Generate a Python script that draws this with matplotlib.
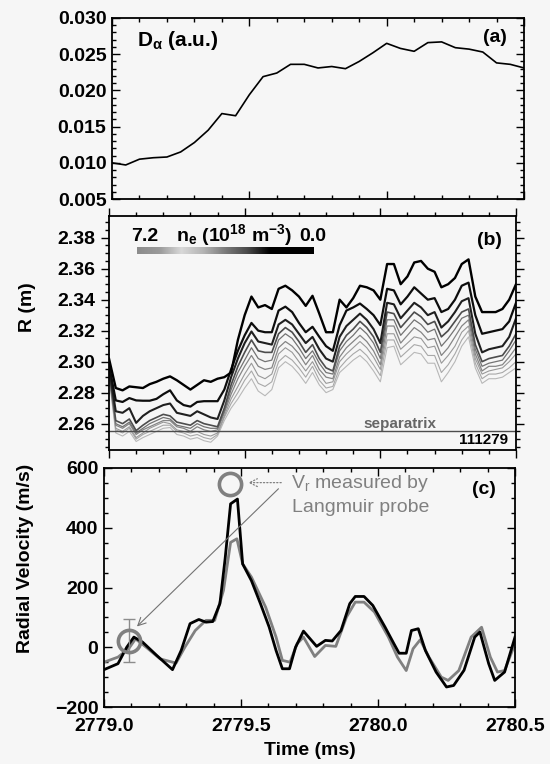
import numpy as np
import matplotlib
matplotlib.use("Agg")
import matplotlib.pyplot as plt
from matplotlib.colors import LinearSegmentedColormap
from matplotlib.ticker import AutoMinorLocator, FormatStrFormatter, MultipleLocator

plt.rcParams["font.family"] = ["Liberation Sans", "DejaVu Sans"]
plt.rcParams["font.weight"] = "bold"
plt.rcParams["axes.labelweight"] = "bold"
plt.rcParams["font.size"] = 14
plt.rcParams["mathtext.default"] = "regular"

# ---- (a) D-alpha, sampled every 0.05 ms
da_time = np.linspace(2779.0, 2780.5, 31)
d_alpha = [0.0100, 0.0097, 0.0105, 0.0107, 0.0108, 0.0115, 0.0128, 0.0145, 0.0168, 0.0165,
           0.0194, 0.0219, 0.0224, 0.0236, 0.0236, 0.0231, 0.0233, 0.0230, 0.0240, 0.0252,
           0.0265, 0.0258, 0.0254, 0.0266, 0.0267, 0.0259, 0.0257, 0.0253, 0.0238, 0.0236,
           0.0231]

# ---- (b) density contour radii, sampled every 0.025 ms (outer/low ne first)
r_time = np.linspace(2779.0, 2780.5, 61)
r_l1 = [2.302, 2.283, 2.2815, 2.284, 2.2835, 2.283, 2.2855, 2.287, 2.289, 2.2905,
        2.288, 2.285, 2.282, 2.285, 2.288, 2.287, 2.289, 2.290, 2.293, 2.314,
        2.330, 2.342, 2.335, 2.3365, 2.334, 2.347, 2.349, 2.346, 2.342, 2.336,
        2.3425, 2.331, 2.319, 2.319, 2.340, 2.335, 2.341, 2.349, 2.348, 2.346,
        2.340, 2.363, 2.363, 2.350, 2.355, 2.364, 2.365, 2.360, 2.358, 2.348,
        2.350, 2.354, 2.363, 2.366, 2.342, 2.332, 2.332, 2.332, 2.334, 2.340,
        2.350]
r_l2 = [2.298, 2.275, 2.274, 2.2765, 2.275, 2.2748, 2.2748, 2.276, 2.279, 2.2815,
        2.275, 2.272, 2.271, 2.274, 2.2745, 2.2745, 2.2745, 2.282, 2.295, 2.307,
        2.317, 2.325, 2.320, 2.319, 2.319, 2.333, 2.3355, 2.332, 2.325, 2.319,
        2.3225, 2.316, 2.310, 2.307, 2.3235, 2.333, 2.335, 2.3375, 2.334, 2.330,
        2.3236, 2.347, 2.346, 2.337, 2.342, 2.348, 2.344, 2.340, 2.341, 2.332,
        2.334, 2.340, 2.349, 2.351, 2.330, 2.318, 2.319, 2.320, 2.321, 2.326,
        2.338]
r_l3 = [2.296, 2.268, 2.267, 2.270, 2.2605, 2.265, 2.268, 2.270, 2.272, 2.273,
        2.267, 2.266, 2.265, 2.268, 2.266, 2.264, 2.263, 2.275, 2.290, 2.302,
        2.312, 2.3195, 2.313, 2.312, 2.311, 2.324, 2.327, 2.324, 2.318, 2.312,
        2.316, 2.308, 2.302, 2.300, 2.316, 2.323, 2.327, 2.331, 2.327, 2.321,
        2.312, 2.338, 2.337, 2.328, 2.333, 2.338, 2.335, 2.330, 2.332, 2.322,
        2.326, 2.332, 2.339, 2.341, 2.318, 2.306, 2.308, 2.309, 2.310, 2.316,
        2.328]
r_l4 = [2.294, 2.262, 2.260, 2.263, 2.2555, 2.259, 2.262, 2.264, 2.266, 2.265,
        2.261, 2.260, 2.259, 2.262, 2.260, 2.259, 2.258, 2.270, 2.285, 2.297,
        2.306, 2.314, 2.307, 2.306, 2.306, 2.318, 2.322, 2.319, 2.313, 2.306,
        2.311, 2.302, 2.296, 2.294, 2.310, 2.317, 2.321, 2.326, 2.322, 2.316,
        2.306, 2.332, 2.331, 2.322, 2.327, 2.332, 2.329, 2.324, 2.326, 2.316,
        2.320, 2.326, 2.332, 2.334, 2.311, 2.300, 2.302, 2.303, 2.304, 2.310,
        2.318]
r_l5 = [2.293, 2.260, 2.258, 2.261, 2.254, 2.257, 2.260, 2.262, 2.264, 2.263,
        2.259, 2.258, 2.257, 2.260, 2.258, 2.257, 2.257, 2.268, 2.282, 2.293,
        2.301, 2.309, 2.302, 2.300, 2.301, 2.314, 2.318, 2.315, 2.309, 2.302,
        2.307, 2.299, 2.293, 2.292, 2.307, 2.313, 2.317, 2.322, 2.318, 2.312,
        2.302, 2.327, 2.327, 2.317, 2.322, 2.327, 2.324, 2.319, 2.321, 2.310,
        2.315, 2.321, 2.328, 2.330, 2.308, 2.297, 2.299, 2.300, 2.301, 2.307,
        2.314]
r_l6 = [2.292, 2.259, 2.257, 2.260, 2.253, 2.256, 2.258, 2.260, 2.262, 2.262,
        2.258, 2.257, 2.255, 2.258, 2.256, 2.255, 2.256, 2.267, 2.279, 2.289,
        2.297, 2.304, 2.297, 2.295, 2.296, 2.309, 2.313, 2.310, 2.305, 2.298,
        2.304, 2.295, 2.290, 2.289, 2.303, 2.309, 2.313, 2.317, 2.313, 2.307,
        2.298, 2.323, 2.323, 2.312, 2.317, 2.322, 2.319, 2.314, 2.315, 2.304,
        2.309, 2.316, 2.323, 2.327, 2.305, 2.294, 2.297, 2.297, 2.298, 2.303,
        2.309]
r_l7 = [2.292, 2.257, 2.255, 2.258, 2.251, 2.254, 2.257, 2.259, 2.261, 2.260,
        2.256, 2.255, 2.254, 2.255, 2.253, 2.252, 2.254, 2.265, 2.276, 2.284,
        2.292, 2.299, 2.291, 2.289, 2.292, 2.305, 2.309, 2.306, 2.300, 2.294,
        2.300, 2.292, 2.286, 2.287, 2.300, 2.305, 2.309, 2.313, 2.309, 2.303,
        2.295, 2.318, 2.318, 2.308, 2.312, 2.316, 2.315, 2.309, 2.310, 2.299,
        2.304, 2.310, 2.319, 2.323, 2.302, 2.292, 2.294, 2.295, 2.296, 2.300,
        2.305]
r_l8 = [2.291, 2.256, 2.254, 2.257, 2.250, 2.253, 2.255, 2.257, 2.259, 2.259,
        2.255, 2.254, 2.252, 2.253, 2.251, 2.250, 2.253, 2.264, 2.273, 2.280,
        2.288, 2.294, 2.286, 2.284, 2.287, 2.300, 2.304, 2.301, 2.296, 2.290,
        2.297, 2.288, 2.283, 2.284, 2.296, 2.301, 2.305, 2.308, 2.304, 2.298,
        2.291, 2.314, 2.314, 2.303, 2.307, 2.311, 2.310, 2.304, 2.304, 2.293,
        2.298, 2.305, 2.314, 2.320, 2.299, 2.289, 2.292, 2.292, 2.293, 2.296,
        2.300]
r_l9 = [2.290, 2.254, 2.252, 2.255, 2.2485, 2.251, 2.253, 2.255, 2.257, 2.2575,
        2.253, 2.252, 2.250, 2.251, 2.249, 2.248, 2.252, 2.262, 2.270, 2.276,
        2.283, 2.289, 2.281, 2.278, 2.282, 2.296, 2.300, 2.297, 2.292, 2.286,
        2.293, 2.285, 2.280, 2.282, 2.293, 2.297, 2.301, 2.304, 2.300, 2.294,
        2.287, 2.309, 2.310, 2.298, 2.302, 2.306, 2.305, 2.299, 2.299, 2.287,
        2.293, 2.300, 2.310, 2.316, 2.296, 2.286, 2.289, 2.289, 2.290, 2.293,
        2.296]
r_lines = [r_l1, r_l2, r_l3, r_l4, r_l5, r_l6, r_l7, r_l8, r_l9]
separatrix_r = 2.255

# ---- (c) radial velocity
vr_black_t = [2779.0, 2779.051, 2779.083, 2779.109, 2779.141, 2779.192, 2779.25, 2779.282,
              2779.314, 2779.346, 2779.372, 2779.397, 2779.423, 2779.442, 2779.462, 2779.487,
              2779.506, 2779.538, 2779.571, 2779.603, 2779.628, 2779.651, 2779.677, 2779.699,
              2779.728, 2779.776, 2779.808, 2779.833, 2779.865, 2779.897, 2779.917, 2779.949,
              2779.981, 2780.026, 2780.058, 2780.077, 2780.103, 2780.122, 2780.147, 2780.173,
              2780.212, 2780.25, 2780.276, 2780.314, 2780.353, 2780.372, 2780.404, 2780.426,
              2780.462, 2780.5]
vr_black = [-75, -55, 0, 34, 17, -27, -75, -10, 79, 93, 84, 86, 146, 296, 480, 496, 279, 223,
            146, 67, -11, -72, -72, 0, 54, 3, 23, 21, 56, 146, 170, 170, 140, 67, 12, -20, -20,
            56, 62, -11, -83, -133, -128, -77, 34, 51, -55, -111, -83, 34]
vr_gray_t = [2779.0, 2779.051, 2779.09, 2779.115, 2779.154, 2779.205, 2779.263, 2779.295,
             2779.333, 2779.372, 2779.404, 2779.436, 2779.462, 2779.485, 2779.506, 2779.538,
             2779.59, 2779.628, 2779.651, 2779.679, 2779.705, 2779.728, 2779.769, 2779.808,
             2779.846, 2779.885, 2779.917, 2779.949, 2779.987, 2780.038, 2780.071, 2780.103,
             2780.128, 2780.154, 2780.186, 2780.231, 2780.256, 2780.295, 2780.34, 2780.378,
             2780.41, 2780.436, 2780.462, 2780.5]
vr_gray = [-50, -33, -5, 28, 0, -39, -53, 0, 56, 90, 90, 190, 351, 363, 279, 235, 134, 34, -44,
           -50, 12, 34, -31, 6, 3, 101, 151, 151, 118, 34, -33, -78, -5, 25, -33, -100, -111,
           -78, 34, 67, -33, -83, -78, 12]
probe_t = [2779.09, 2779.46]
probe_v = [22, 545]
probe_err0 = 73  # error bar only on the early probe point

bg = "#f6f6f6"
W, H = 550, 764


def px_axes(l, t, r, b):
    return fig.add_axes([l / W, 1 - b / H, (r - l) / W, (b - t) / H])


def style(ax, direction):
    ax.tick_params(which="both", direction=direction, top=True, right=True,
                   width=1, labelsize=14)
    ax.tick_params(which="major", length=6, pad=4)
    ax.tick_params(which="minor", length=3)
    for s in ax.spines.values():
        s.set_linewidth(1.3)
    ax.set_facecolor(bg)
    ax.set_xlim(2779.0, 2780.5)
    ax.xaxis.set_major_locator(MultipleLocator(0.5))
    ax.xaxis.set_minor_locator(AutoMinorLocator(5))


fig = plt.figure(figsize=(5.5, 7.64), dpi=100, facecolor=bg)

# (a)
ax_a = px_axes(112, 18, 524, 199)
style(ax_a, "in")
ax_a.plot(da_time, d_alpha, color="black", lw=1.2)
ax_a.set_ylim(0.005, 0.030)
ax_a.yaxis.set_major_locator(MultipleLocator(0.005))
ax_a.yaxis.set_minor_locator(AutoMinorLocator(5))
ax_a.yaxis.set_major_formatter(FormatStrFormatter("%.3f"))
ax_a.tick_params(labelbottom=False)
ax_a.text(0.061, 0.873, r"D$_{\alpha}$ (a.u.)", transform=ax_a.transAxes,
          va="center", ha="left", fontsize=15)
ax_a.text(0.93, 0.89, "(a)", transform=ax_a.transAxes, va="center", ha="center")

# (b)
ax_b = px_axes(109, 216, 516, 450)
style(ax_b, "out")
line_colors = ["black", "0.05", "0.12", "0.3", "0.45", "0.52", "0.6", "0.66", "0.72"]
line_widths = [1.7, 1.6, 1.5, 1.2, 0.9, 0.9, 0.8, 0.8, 0.8]
for vals, c, lw in zip(r_lines[::-1], line_colors[::-1], line_widths[::-1]):
    ax_b.plot(r_time, vals, color=c, lw=lw)
ax_b.axhline(separatrix_r, color="0.3", lw=1)
ax_b.set_ylim(2.243, 2.394)
ax_b.yaxis.set_major_locator(MultipleLocator(0.02))
ax_b.yaxis.set_minor_locator(AutoMinorLocator(4))
ax_b.yaxis.set_major_formatter(FormatStrFormatter("%.2f"))
ax_b.tick_params(labelbottom=False)
ax_b.set_ylabel("R (m)", fontsize=14)
ax_b.yaxis.set_label_coords(-0.18, 0.61)
ax_b.text(0.054, 0.893, "7.2", transform=ax_b.transAxes, va="baseline")
ax_b.text(0.165, 0.893, r"n$_e$ (10$^{18}$ m$^{-3}$)", transform=ax_b.transAxes,
          va="baseline")
ax_b.text(0.467, 0.893, "0.0", transform=ax_b.transAxes, va="baseline")
ax_b.text(0.934, 0.897, "(b)", transform=ax_b.transAxes, va="center", ha="center")
ax_b.text(0.715, 0.111, "separatrix", transform=ax_b.transAxes, va="center",
          ha="center", fontsize=11, color="0.4")
ax_b.text(0.98, 0.043, "111279", transform=ax_b.transAxes, va="center", ha="right",
          fontsize=11)
cb = ax_b.inset_axes([0.068, 0.838, 0.433, 0.03])
bar_cmap = LinearSegmentedColormap.from_list(
    "ne", ["#8c8c8c", "#9a9a9a", "#d8d8d8", "#b4b4b4", "#7a7a7a", "#4a4a4a",
           "#000000", "#000000", "#000000"])
cb.imshow(np.linspace(0, 1, 256)[None, :], aspect="auto", cmap=bar_cmap)
cb.set_axis_off()

# (c)
ax_c = px_axes(104, 468, 515, 707)
style(ax_c, "in")
ax_c.tick_params(axis="x", which="major", pad=8)
ax_c.plot(vr_gray_t, vr_gray, color="0.5", lw=2)
ax_c.plot(vr_black_t, vr_black, color="black", lw=2)
ax_c.set_ylim(-200, 600)
ax_c.yaxis.set_major_locator(MultipleLocator(200))
ax_c.yaxis.set_minor_locator(AutoMinorLocator(4))
ax_c.xaxis.set_major_formatter(FormatStrFormatter("%.1f"))
ax_c.errorbar(probe_t[:1], probe_v[:1], yerr=probe_err0, fmt="none", ecolor="0.55",
              elinewidth=1, capsize=4)
ax_c.plot(probe_t, probe_v, "o", ms=16, mfc="none", mec="0.5", mew=2.6)
ax_c.annotate("", xy=(2779.516, 551), xytext=(2779.657, 551),
              arrowprops=dict(arrowstyle="->", color="0.5", lw=0.9, ls=":"))
ax_c.annotate("", xy=(2779.113, 63), xytext=(2779.644, 537),
              arrowprops=dict(arrowstyle="->", color="0.45", lw=0.8))
ax_c.text(2779.935, 583, "V$_r$ measured by\nLangmuir probe", color="0.5",
          fontweight="normal", fontsize=14, ha="center", va="top", linespacing=1.35)
ax_c.text(0.925, 0.912, "(c)", transform=ax_c.transAxes, va="center", ha="center")
ax_c.set_ylabel("Radial Velocity (m/s)", fontsize=14)
ax_c.yaxis.set_label_coords(-0.17, 0.62)
ax_c.set_xlabel("Time (ms)", fontsize=14)
ax_c.xaxis.set_label_coords(0.5, -0.145)

fig.savefig("out.png", dpi=100, facecolor=bg)
